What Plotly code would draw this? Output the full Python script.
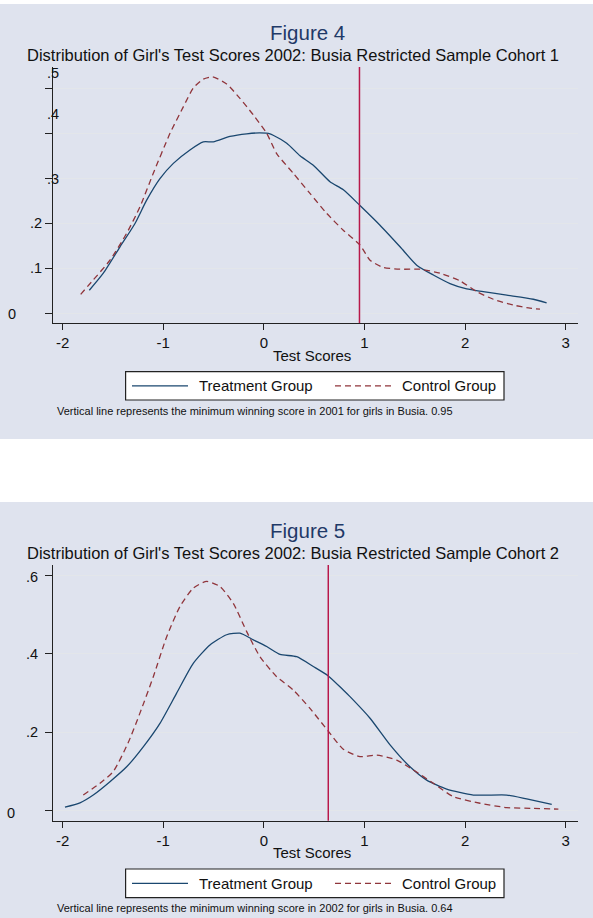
import plotly.graph_objects as go

# ---------------- data ----------------
fig_titles = ["Figure 4", "Figure 5"]
subtitles = ["Distribution of Girl's Test Scores 2002: Busia Restricted Sample Cohort 1",
             "Distribution of Girl's Test Scores 2002: Busia Restricted Sample Cohort 2"]
notes = ["Vertical line represents the minimum winning score in 2001 for girls in Busia. 0.95",
         "Vertical line represents the minimum winning score in 2002 for girls in Busia. 0.64"]
cutoffs = [0.95, 0.64]
series_names = ["Treatment Group", "Control Group"]
x_title = "Test Scores"
x_ticks = [-2, -1, 0, 1, 2, 3]
y_ticks_1 = [0, 0.1, 0.2, 0.3, 0.4, 0.5]
y_labels_1 = ["0", ".1", ".2", ".3", ".4", ".5"]
y_ticks_2 = [0, 0.2, 0.4, 0.6]
y_labels_2 = ["0", ".2", ".4", ".6"]

t1_x = [-1.735, -1.596, -1.43, -1.281, -1.165, -1.033, -0.90, -0.735, -0.602, -0.503, -0.337, -0.171,
        -0.039, 0.061, 0.227, 0.359, 0.491, 0.657, 0.79, 0.955, 1.154, 1.353, 1.519, 1.684, 1.85,
        2.016, 2.18, 2.414, 2.678, 2.81]
t1_y = [0.051, 0.089, 0.148, 0.200, 0.252, 0.300, 0.334, 0.364, 0.382, 0.382, 0.394, 0.400,
        0.402, 0.400, 0.379, 0.351, 0.330, 0.293, 0.275, 0.240, 0.196, 0.148, 0.107, 0.085, 0.066,
        0.054, 0.048, 0.040, 0.031, 0.023]
c1_x = [-1.821, -1.696, -1.53, -1.364, -1.232, -1.099, -0.933, -0.801, -0.702, -0.602, -0.509, -0.37,
        -0.238, -0.105, 0.028, 0.127, 0.292, 0.458, 0.624, 0.789, 0.955, 1.055, 1.187, 1.353, 1.552,
        1.751, 1.95, 2.115, 2.28, 2.479, 2.645, 2.744]
c1_y = [0.042, 0.074, 0.118, 0.178, 0.237, 0.312, 0.401, 0.460, 0.502, 0.522, 0.527, 0.511,
        0.479, 0.442, 0.401, 0.356, 0.312, 0.267, 0.2225, 0.185, 0.152, 0.118, 0.102, 0.098, 0.098,
        0.089, 0.072, 0.048, 0.031, 0.018, 0.011, 0.009]
t2_x = [-1.977, -1.828, -1.696, -1.53, -1.364, -1.199, -1.033, -0.867, -0.702, -0.536, -0.37, -0.238,
        -0.105, 0.028, 0.16, 0.326, 0.491, 0.64, 0.789, 0.856, 1.055, 1.254, 1.452, 1.618, 1.817,
        2.082, 2.414, 2.612, 2.861]
t2_y = [0.009, 0.020, 0.040, 0.074, 0.112, 0.163, 0.223, 0.300, 0.376, 0.423, 0.449, 0.453,
        0.436, 0.419, 0.399, 0.393, 0.368, 0.344, 0.308, 0.291, 0.236, 0.168, 0.112, 0.078, 0.055,
        0.040, 0.040, 0.030, 0.016]
c2_x = [-1.795, -1.629, -1.497, -1.348, -1.232, -1.099, -0.966, -0.834, -0.702, -0.569, -0.436, -0.304,
        -0.171, -0.039, 0.127, 0.292, 0.458, 0.64, 0.789, 0.955, 1.121, 1.32, 1.485, 1.684, 1.883,
        2.148, 2.414, 2.678, 2.927]
c2_y = [0.040, 0.070, 0.100, 0.174, 0.249, 0.342, 0.444, 0.521, 0.568, 0.585, 0.572, 0.529,
        0.457, 0.393, 0.342, 0.308, 0.261, 0.203, 0.157, 0.138, 0.142, 0.129, 0.104, 0.070, 0.036,
        0.019, 0.008, 0.006, 0.004]

# ---------------- style ----------------
W, H = 593, 918
FONT = "Liberation Sans, Arial, sans-serif"
BG = "#dfe3ee"
NAVY = "#1a476f"
MAROON = "#90353b"
CUT = "#b8184a"
TITLE_C = "#1f3a68"
GRID = "#e3e6ea"
AX = "#222222"


def px(x):
    return x / W


def py(y):
    return 1 - y / H


fig = go.Figure()

fig.add_trace(go.Scatter(x=t1_x, y=t1_y, mode="lines", name=series_names[0], showlegend=False,
                         line=dict(color=NAVY, width=1.3, shape="spline", smoothing=0.6),
                         xaxis="x", yaxis="y"))
fig.add_trace(go.Scatter(x=c1_x, y=c1_y, mode="lines", name=series_names[1], showlegend=False,
                         line=dict(color=MAROON, width=1.3, dash="6px,4px", shape="spline", smoothing=0.6),
                         xaxis="x", yaxis="y"))
fig.add_trace(go.Scatter(x=t2_x, y=t2_y, mode="lines", name=series_names[0], showlegend=False,
                         line=dict(color=NAVY, width=1.3, shape="spline", smoothing=0.6),
                         xaxis="x2", yaxis="y2"))
fig.add_trace(go.Scatter(x=c2_x, y=c2_y, mode="lines", name=series_names[1], showlegend=False,
                         line=dict(color=MAROON, width=1.3, dash="6px,4px", shape="spline", smoothing=0.6),
                         xaxis="x2", yaxis="y2"))

xdom = [px(53), px(577.5)]
common_x = dict(domain=xdom, range=[-2.096, 3.117], tickvals=x_ticks, ticktext=[str(v) for v in x_ticks],
                showgrid=False, zeroline=False, showline=True, linecolor=AX, linewidth=1.2,
                ticks="outside", ticklen=6, tickcolor=AX, tickwidth=1,
                tickfont=dict(family=FONT, size=15, color="#111"), fixedrange=True)
common_y = dict(showgrid=True, gridcolor=GRID, gridwidth=1, zeroline=False, showline=True,
                linecolor=AX, linewidth=1.2, ticks="outside", ticklen=7, tickcolor=AX, tickwidth=1,
                showticklabels=False, fixedrange=True)

shapes = []
annotations = []

panels = [
    dict(xa="x", ya="y", ydom=[py(323), py(67)], yr=[-0.022, 0.549], yt=y_ticks_1, yl=y_labels_1,
         bg=(4, 439), title_y=32, sub_y=54.5, xtitle_y=355, leg=(371.7, 400), note_y=410.7,
         lab_pos=[(17, 1), (43, 0), (43, 0), (60, 0), (60, -20), (60, -16)]),
    dict(xa="x2", ya="y2", ydom=[py(820.7), py(565)], yr=[-0.0255, 0.627], yt=y_ticks_2, yl=y_labels_2,
         bg=(502, 918), title_y=530, sub_y=553, xtitle_y=852, leg=(869, 897.7), note_y=908,
         lab_pos=[(16, 2), (39, 0), (39, 0), (39, 1)]),
]

layout_axes = {}
for i, p in enumerate(panels):
    xk = "xaxis" if i == 0 else "xaxis2"
    yk = "yaxis" if i == 0 else "yaxis2"
    layout_axes[xk] = dict(common_x, anchor=p["ya"])
    layout_axes[yk] = dict(common_y, domain=p["ydom"], range=p["yr"], tickvals=p["yt"], anchor=p["xa"])

    shapes.append(dict(type="rect", xref="paper", yref="paper", x0=0, x1=1,
                       y0=py(p["bg"][1]), y1=py(p["bg"][0]), fillcolor=BG, line=dict(width=0),
                       layer="below"))
    shapes.append(dict(type="line", xref=p["xa"], yref=p["ya"] + " domain", x0=cutoffs[i], x1=cutoffs[i],
                       y0=0, y1=1, line=dict(color=CUT, width=1.5)))

    annotations.append(dict(text=fig_titles[i], xref="paper", yref="paper", x=px(307.5), y=py(p["title_y"]),
                            showarrow=False, xanchor="center", yanchor="middle",
                            font=dict(family=FONT, size=20.5, color=TITLE_C)))
    annotations.append(dict(text=subtitles[i], xref="paper", yref="paper", x=px(292.7), y=py(p["sub_y"]),
                            showarrow=False, xanchor="center", yanchor="middle", borderpad=0,
                            font=dict(family=FONT, size=16.5, color="#111")))
    for (v, lab), (xr, dy) in zip(zip(p["yt"], p["yl"]), p["lab_pos"]):
        annotations.append(dict(text=lab, xref="paper", yref=p["ya"], x=px(xr), y=v, yshift=-dy,
                                showarrow=False, xanchor="right", yanchor="middle", borderpad=0,
                                font=dict(family=FONT, size=14.5, color="#111")))
    annotations.append(dict(text=x_title, xref="paper", yref="paper", x=px(312), y=py(p["xtitle_y"]),
                            showarrow=False, xanchor="center", yanchor="middle",
                            font=dict(family=FONT, size=15, color="#111")))
    ly0, ly1 = p["leg"]
    lyc = (ly0 + ly1) / 2
    shapes.append(dict(type="rect", xref="paper", yref="paper", x0=px(125.6), x1=px(504),
                       y0=py(ly1), y1=py(ly0), fillcolor="white", line=dict(color=AX, width=1.2)))
    shapes.append(dict(type="line", xref="paper", yref="paper", x0=px(132), x1=px(188),
                       y0=py(lyc), y1=py(lyc), line=dict(color=NAVY, width=1.3)))
    shapes.append(dict(type="line", xref="paper", yref="paper", x0=px(335), x1=px(391),
                       y0=py(lyc), y1=py(lyc), line=dict(color=MAROON, width=1.3, dash="6px,4px")))
    annotations.append(dict(text=series_names[0], xref="paper", yref="paper", x=px(197), y=py(lyc),
                            showarrow=False, xanchor="left", yanchor="middle",
                            font=dict(family=FONT, size=15, color="#111")))
    annotations.append(dict(text=series_names[1], xref="paper", yref="paper", x=px(400), y=py(lyc),
                            showarrow=False, xanchor="left", yanchor="middle",
                            font=dict(family=FONT, size=15, color="#111")))
    annotations.append(dict(text=notes[i], xref="paper", yref="paper", x=px(55), y=py(p["note_y"]),
                            showarrow=False, xanchor="left", yanchor="middle",
                            font=dict(family=FONT, size=11, color="#111")))

fig.update_layout(
    width=W, height=H, margin=dict(l=0, r=0, t=0, b=0, pad=0),
    paper_bgcolor="white", plot_bgcolor="white",
    showlegend=False, shapes=shapes, annotations=annotations,
    **layout_axes,
)

fig.write_html("out.html", config={"displayModeBar": False})
